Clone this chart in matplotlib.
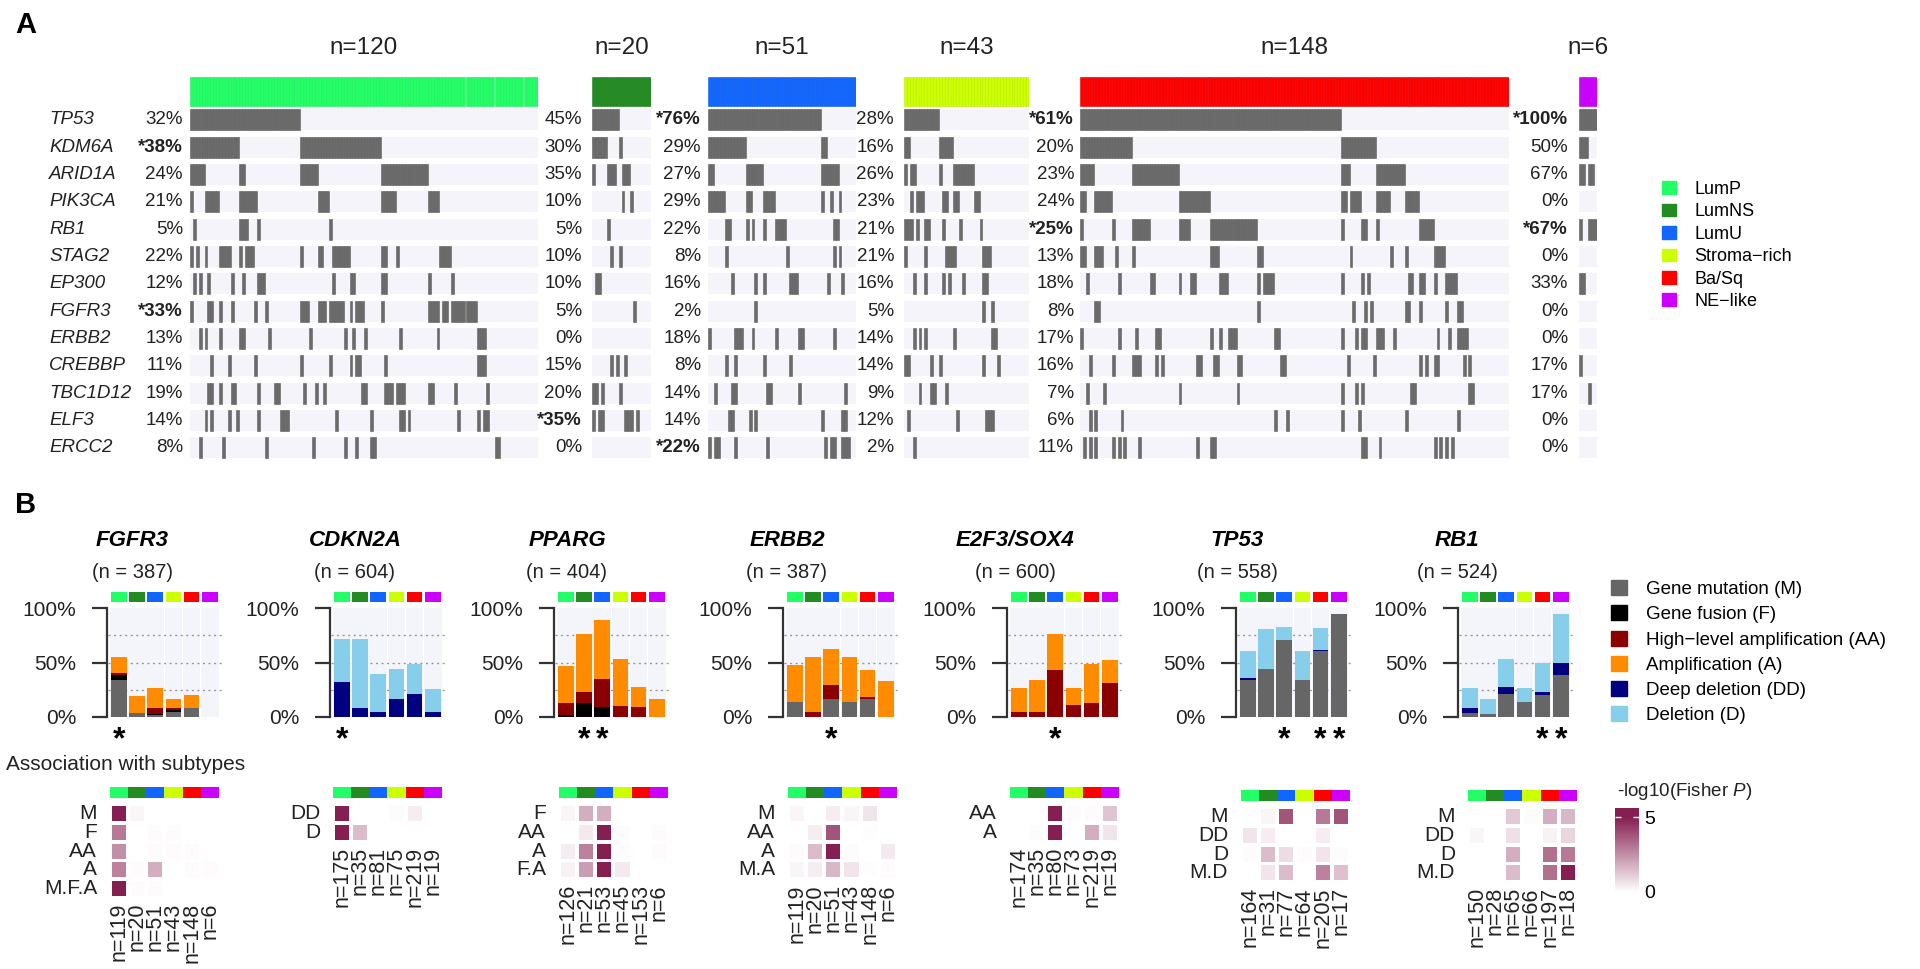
import numpy as np
import matplotlib.pyplot as plt
from matplotlib.colors import LinearSegmentedColormap, Normalize, to_rgb
from matplotlib.patches import Patch

plt.rcParams['font.family'] = ['Liberation Sans', 'DejaVu Sans']
plt.rcParams['mathtext.fontset'] = 'custom'
plt.rcParams['mathtext.rm'] = 'Liberation Sans'
plt.rcParams['mathtext.it'] = 'Liberation Sans:italic'

# ---------------- data ----------------
SUBTYPES = ['LumP', 'LumNS', 'LumU', 'Stroma\u2212rich', 'Ba/Sq', 'NE\u2212like']
SUBTYPE_COLORS = ['#22ff66', '#228b22', '#1166ff', '#ccff00', '#ff0000', '#cc00ff']
GROUP_N = [120, 20, 51, 43, 148, 6]

GENES_A = ['TP53', 'KDM6A', 'ARID1A', 'PIK3CA', 'RB1', 'STAG2', 'EP300', 'FGFR3',
           'ERBB2', 'CREBBP', 'TBC1D12', 'ELF3', 'ERCC2']

PCT_LUMP = ['32%', '*38%', '24%', '21%', '5%', '22%', '12%', '*33%', '13%', '11%', '19%', '14%', '8%']
PCT_LUMNS = ['45%', '30%', '35%', '10%', '5%', '10%', '10%', '5%', '0%', '15%', '20%', '*35%', '0%']
PCT_LUMU = ['*76%', '29%', '27%', '29%', '22%', '8%', '16%', '2%', '18%', '8%', '14%', '14%', '*22%']
PCT_STROMA = ['28%', '16%', '26%', '23%', '21%', '21%', '16%', '5%', '14%', '14%', '9%', '12%', '2%']
PCT_BASQ = ['*61%', '20%', '23%', '24%', '*25%', '13%', '18%', '8%', '17%', '16%', '7%', '6%', '11%']
PCT_NE = ['*100%', '50%', '67%', '0%', '*67%', '0%', '33%', '0%', '0%', '17%', '17%', '0%', '0%']

# mutated sample ranges (start, end) per gene, in sample order of each subtype
MUT_LUMP = [
    [(0, 38)],
    [(0, 17), (38, 66)],
    [(0, 5), (17, 19), (38, 44), (66, 82)],
    [(0, 1), (5, 10), (17, 23), (44, 48), (66, 71), (82, 86)],
    [(1, 2), (17, 20), (23, 24), (48, 49)],
    [(0, 1), (2, 3), (5, 6), (10, 14), (17, 18), (19, 22), (38, 39), (44, 46), (49, 55), (66, 68), (71, 72), (86, 90)],
    [(1, 2), (3, 4), (6, 7), (14, 15), (18, 19), (23, 26), (49, 50), (55, 57), (66, 68), (82, 83), (90, 91)],
    [(0, 1), (6, 8), (10, 11), (14, 15), (22, 23), (26, 27), (38, 41), (44, 47), (48, 53), (55, 56), (57, 60),
     (66, 67), (82, 86), (87, 89), (90, 99)],
    [(3, 4), (5, 6), (10, 11), (17, 19), (27, 28), (41, 42), (53, 54), (56, 57), (60, 61), (72, 73), (85, 86), (99, 102)],
    [(7, 8), (13, 14), (22, 23), (38, 39), (48, 49), (55, 56), (57, 59), (67, 68), (99, 102)],
    [(6, 8), (10, 11), (14, 16), (23, 24), (29, 31), (39, 40), (43, 44), (46, 47), (59, 61), (67, 70), (71, 74),
     (82, 84), (91, 92), (102, 103)],
    [(5, 6), (7, 8), (13, 14), (16, 17), (23, 24), (31, 34), (50, 51), (62, 63), (72, 74), (75, 76), (92, 93),
     (99, 100), (101, 103)],
    [(3, 4), (11, 12), (26, 27), (42, 43), (53, 54), (57, 58), (62, 64), (105, 107)],
]
MUT_LUMNS = [
    [(0, 9)], [(0, 5), (9, 10)], [(0, 1), (5, 8), (10, 13)], [(10, 11), (13, 14)], [(5, 6)],
    [(6, 7), (9, 10)], [(1, 3)], [(14, 15)], [], [(6, 7), (8, 9), (11, 12)],
    [(0, 2), (3, 4), (9, 10)], [(0, 1), (2, 4), (11, 14), (15, 16)], [],
]
MUT_LUMU = [
    [(0, 39)],
    [(0, 13), (39, 41)],
    [(0, 2), (13, 19), (39, 45)],
    [(0, 1), (1, 6), (13, 15), (19, 23), (39, 40), (42, 43), (45, 46)],
    [(6, 8), (13, 14), (15, 16), (19, 20), (23, 27), (43, 45)],
    [(6, 7), (27, 28), (43, 44), (45, 46)],
    [(8, 9), (16, 17), (19, 20), (28, 31), (41, 42), (46, 47)],
    [(16, 17)],
    [(0, 1), (9, 12), (15, 16), (23, 24), (31, 33), (43, 44)],
    [(6, 7), (9, 10), (19, 20), (28, 29)],
    [(2, 3), (8, 10), (20, 22), (31, 32), (47, 48)],
    [(7, 9), (14, 15), (16, 17), (39, 40), (46, 48)],
    [(0, 1), (2, 4), (9, 10), (20, 21), (40, 41), (42, 44), (46, 49)],
]
MUT_STROMA = [
    [(0, 12)],
    [(0, 2), (12, 17)],
    [(0, 1), (2, 4), (12, 13), (17, 24)],
    [(2, 3), (4, 7), (13, 15), (17, 19), (24, 26)],
    [(0, 3), (4, 5), (7, 9), (13, 14), (19, 20), (26, 27)],
    [(0, 1), (7, 8), (14, 18), (27, 30)],
    [(3, 4), (7, 8), (13, 14), (15, 16), (20, 21), (27, 29)],
    [(27, 28), (30, 31)],
    [(3, 4), (5, 6), (7, 8), (17, 18), (30, 32)],
    [(0, 2), (9, 10), (12, 13), (27, 28), (32, 33)],
    [(5, 6), (9, 11), (14, 15)],
    [(1, 2), (18, 19), (28, 31)],
    [(3, 4)],
]
MUT_BASQ = [
    [(0, 90)],
    [(0, 18), (90, 102)],
    [(0, 5), (18, 34), (90, 93), (102, 112)],
    [(0, 2), (5, 11), (34, 45), (90, 92), (93, 97), (102, 107), (112, 117)],
    [(0, 1), (11, 12), (18, 24), (34, 38), (45, 61), (90, 91), (97, 99), (102, 103), (117, 122)],
    [(0, 2), (5, 8), (12, 13), (18, 19), (45, 48), (61, 63), (93, 94), (107, 108), (112, 113), (122, 126)],
    [(2, 3), (13, 14), (24, 26), (34, 35), (38, 40), (48, 51), (61, 62), (63, 67), (90, 91), (97, 98), (99, 100),
     (113, 115), (117, 119), (122, 123), (126, 130)],
    [(5, 7), (61, 62), (94, 95), (98, 99), (100, 101), (112, 114), (117, 118), (126, 127), (130, 132)],
    [(0, 1), (13, 14), (19, 20), (26, 28), (45, 46), (48, 49), (51, 54), (67, 69), (90, 91), (95, 96), (97, 98),
     (98, 99), (102, 105), (108, 109), (123, 124), (127, 128), (130, 134)],
    [(3, 4), (11, 12), (18, 21), (26, 27), (28, 29), (40, 42), (46, 48), (54, 56), (69, 71), (92, 93), (101, 102),
     (117, 118), (119, 120), (122, 124), (132, 133), (134, 135)],
    [(2, 3), (8, 9), (34, 35), (54, 55), (90, 91), (95, 96), (97, 98), (114, 116), (134, 136)],
    [(3, 4), (5, 6), (14, 15), (67, 68), (71, 72), (90, 91), (96, 97), (112, 113), (130, 131)],
    [(1, 2), (3, 4), (5, 6), (11, 12), (13, 14), (15, 16), (20, 21), (40, 41), (45, 47), (97, 99), (103, 104),
     (122, 123), (124, 125), (126, 127), (128, 129)],
]
MUT_NE = [
    [(0, 6)], [(0, 3)], [(0, 2), (3, 5)], [], [(0, 1), (3, 6)], [], [(0, 2)], [], [], [(0, 1)], [(3, 4)], [], [],
]

# panel B: stacked alteration frequencies (%) per subtype
ALT_LABELS = ['Gene mutation (M)', 'Gene fusion (F)', 'High\u2212level amplification (AA)',
              'Amplification (A)', 'Deep deletion (DD)', 'Deletion (D)']
ALT_COLORS = ['#666666', '#000000', '#8b0000', '#ff8c00', '#000080', '#87ceeb']

GENES_B = ['FGFR3', 'CDKN2A', 'PPARG', 'ERBB2', 'E2F3/SOX4', 'TP53', 'RB1']
GENE_N = [387, 604, 404, 387, 600, 558, 524]
Z = [0, 0, 0, 0, 0, 0]
# order: M, F, AA, A, DD, D
BARS_FGFR3 = [[34, 4, 2, 4.5, 8, 0], [5, 0, 1, 1.5, 0, 0], [1.5, 0, 5, 2.5, 0, 0], [14.5, 15.5, 19, 8, 12, 0], Z, Z]
BARS_CDKN2A = [Z, Z, Z, Z, [32.5, 8.5, 4.5, 17, 21, 5], [39, 63, 35.5, 27, 28, 21]]
BARS_PPARG = [Z, [2, 13, 9, 0, 0, 0], [11, 10, 26, 10.5, 9, 0], [34, 53, 54, 42.5, 19, 16.5], Z, Z]
BARS_ERBB2 = [[13.5, 0, 17, 13.5, 17, 0], Z, [0.5, 4.5, 12, 0, 1, 0], [33.5, 50.5, 34, 42, 25.5, 33], Z, Z]
BARS_E2F3 = [Z, Z, [4.5, 5, 43.5, 11, 13, 31], [22, 29, 32.5, 15.5, 36, 21.5], Z, Z]
BARS_TP53 = [[34, 44.5, 71, 34, 60.5, 94.5], Z, Z, Z, [1.5, 0, 0, 0, 1.2, 0], [25.5, 36.5, 12, 27, 19.8, 0]]
BARS_RB1 = [[3.5, 2.5, 21, 14, 20, 38.5], Z, Z, Z, [5, 0, 6.5, 0, 3, 11.5], [18.5, 14.5, 26, 13, 27, 44.5]]
STARS = [[0], [0], [1, 2], [2], [2], [2, 4, 5], [4, 5]]

# association heatmaps: -log10(Fisher P)
HEAT_ROWS = [['M', 'F', 'AA', 'A', 'M.F.A'], ['DD', 'D'], ['F', 'AA', 'A', 'F.A'], ['M', 'AA', 'A', 'M.A'],
             ['AA', 'A'], ['M', 'DD', 'D', 'M.D'], ['M', 'DD', 'D', 'M.D']]
HEAT_FGFR3 = [[5, 0.2, 0, 0, 0, 0], [3, 0, 0.1, 0.1, 0, 0], [2.5, 0, 0.1, 0.1, 0.1, 0],
              [2.8, 0.1, 1.8, 0, 0.1, 0.1], [5, 0.1, 0.1, 0, 0, 0]]
HEAT_CDKN2A = [[5, 0, 0, 0.1, 0.4, 0], [5, 1.5, 0, 0, 0, 0]]
HEAT_PPARG = [[0.2, 1.8, 1.8, 0, 0, 0], [0, 0.5, 5, 0.1, 0, 0.1], [0.4, 2.8, 5, 0.1, 0, 0.1],
              [0.3, 2.2, 5, 0.5, 0, 0]]
HEAT_ERBB2 = [[0.2, 0, 0.4, 0.2, 0.6, 0], [0, 0.4, 3.8, 0, 0.05, 0], [0.1, 1.5, 5, 0.1, 0, 0.5],
              [0.2, 0.4, 1.6, 0.6, 0.05, 0.1]]
HEAT_E2F3 = [[0, 0, 5, 0.1, 0.1, 1.3], [0, 0.1, 5, 0, 1.8, 0.6]]
HEAT_TP53 = [[0, 0.2, 3.8, 0, 3, 3.8], [0.6, 0.4, 0, 0, 0.4, 0], [0.1, 1.5, 0.8, 0.1, 0.6, 0.1],
             [0, 0.6, 1.5, 0, 2.8, 1.4]]
HEAT_RB1 = [[0, 0, 1.2, 0.1, 1.8, 1.6], [0.2, 0, 0.7, 0, 0.3, 0.9], [0, 0, 1.8, 0, 3.2, 3],
            [0, 0, 1.5, 0, 3.2, 5]]
HEAT_N = [[119, 20, 51, 43, 148, 6], [175, 35, 81, 75, 219, 19], [126, 21, 53, 45, 153, 6],
          [119, 20, 51, 43, 148, 6], [174, 35, 80, 73, 219, 19], [164, 31, 77, 64, 205, 17],
          [150, 28, 65, 66, 197, 18]]

# ---------------- figure ----------------
W, H = 1920, 969
fig = plt.figure(figsize=(W / 100, H / 100), dpi=100)


def add_ax(x0, y0, x1, y1, off=True):
    ax = fig.add_axes([x0 / W, 1 - y1 / H, (x1 - x0) / W, (y1 - y0) / H])
    if off:
        ax.set_axis_off()
    return ax


def darker(c, f=0.85):
    r, g, b = to_rgb(c)
    return (r * f, g * f, b * f)


# ---- panel A: oncoprint ----
fig.text(15 / W, 1 - 25 / H, 'A', fontsize=21, fontweight='bold', va='center')
group_px = [(190, 538), (592, 651), (708, 856), (904, 1029), (1080, 1509), (1579, 1597)]
pct_gap = [7, 10, 7, 10, 6, 11]
all_muts = [MUT_LUMP, MUT_LUMNS, MUT_LUMU, MUT_STROMA, MUT_BASQ, MUT_NE]
all_pcts = [PCT_LUMP, PCT_LUMNS, PCT_LUMU, PCT_STROMA, PCT_BASQ, PCT_NE]
ROW0, PITCH = 120, 27.3
row_h = 21 / PITCH
y_lo, y_hi = (77 - ROW0) / PITCH, (462 - ROW0) / PITCH
for g in range(6):
    n = GROUP_N[g]
    x0, x1 = group_px[g]
    ax = add_ax(x0, 77, x1, 462)
    ax.set_xlim(0, n)
    ax.set_ylim(y_hi, y_lo)
    col = SUBTYPE_COLORS[g]
    ax.bar(np.arange(n), 29 / PITCH, bottom=y_lo, width=1, align='edge', color=col,
           edgecolor=darker(col, 0.92), linewidth=0.4)
    ax.barh(np.arange(len(GENES_A)), n, height=row_h, left=0, color='#f4f4fa')
    for i, segs in enumerate(all_muts[g]):
        for s, e in segs:
            ax.bar(np.arange(s, e), row_h, bottom=i - row_h / 2, width=1, align='edge',
                   color='#6b6b6b', edgecolor='#5f5f5f', linewidth=0.4)
    for i, p in enumerate(all_pcts[g]):
        ax.annotate(p, xy=(0, i), xycoords=('axes fraction', 'data'), xytext=(-pct_gap[g], 0),
                    textcoords='offset pixels', ha='right', va='center', fontsize=13.5,
                    fontweight='bold' if p.startswith('*') else 'normal', color='#222222')
    ax.annotate(f'n={n}', xy=(0.5, 1), xycoords='axes fraction', xytext=(0, 29),
                textcoords='offset pixels', ha='center', va='center', fontsize=17.5, color='#222222')
    if g == 0:
        for i, gene in enumerate(GENES_A):
            ax.annotate(gene, xy=(0, i), xycoords=('axes fraction', 'data'), xytext=(49 - x0, 0),
                        textcoords='offset pixels', ha='left', va='center', fontsize=13.5,
                        fontstyle='italic', color='#222222')

fig.legend(handles=[Patch(color=c) for c in SUBTYPE_COLORS], labels=SUBTYPES, loc='upper left',
           bbox_to_anchor=(1662 / W, 1 - 181 / H), frameon=False, fontsize=13, handlelength=0.8,
           handleheight=0.7, handletextpad=1.0, labelspacing=0.3, borderpad=0, borderaxespad=0)

# ---- panel B: bars ----
fig.text(15 / W, 1 - 505 / H, 'B', fontsize=21, fontweight='bold', va='center')
fig.text(6 / W, 1 - 765 / H, 'Association with subtypes', fontsize=15, va='center', color='#222222')

all_bars = [BARS_FGFR3, BARS_CDKN2A, BARS_PPARG, BARS_ERBB2, BARS_E2F3, BARS_TP53, BARS_RB1]
all_heat = [HEAT_FGFR3, HEAT_CDKN2A, HEAT_PPARG, HEAT_ERBB2, HEAT_E2F3, HEAT_TP53, HEAT_RB1]
bar_left = [107, 330, 554, 783, 1007, 1236, 1458]
heat_left = [107, 330, 556, 785, 1007, 1238, 1465]
heat_top = [787, 787, 787, 787, 787, 790, 790]
title_x = [132, 355, 567, 787, 1015, 1237, 1457]
cmap = LinearSegmentedColormap.from_list('fisher', ['#ffffff', '#851f51'])
norm = Normalize(0, 5)
xs = np.arange(6)

for k in range(7):
    x0 = bar_left[k]
    ax = add_ax(x0, 592, x0 + 115, 717, off=False)
    ax.set_xlim(-0.65, 5.67)
    ax.set_ylim(0, 115)
    ax.bar(xs, 100, width=0.97, color='#f4f4fb', zorder=0)
    ax.hlines([25, 50, 75], -0.6, 5.67, colors='#999999', linestyles=(0, (1.5, 2.5)), lw=1, zorder=1)
    bottom = np.zeros(6)
    for vals, c in zip(all_bars[k], ALT_COLORS):
        vals = np.array(vals, dtype=float)
        ax.bar(xs, vals, bottom=bottom, width=0.86, color=c, zorder=2)
        bottom += vals
    ax.bar(xs, 9.3, bottom=105.6, width=0.86, color=SUBTYPE_COLORS, zorder=2)
    for s in ['top', 'right', 'bottom']:
        ax.spines[s].set_visible(False)
    ax.spines['left'].set_bounds(0, 100)
    ax.spines['left'].set_color('#333333')
    ax.spines['left'].set_linewidth(1.6)
    ax.set_xticks([])
    ax.set_yticks([0, 50, 100])
    ax.set_yticklabels(['0%', '50%', '100%'])
    ax.tick_params(axis='y', length=11, width=1.6, color='#333333', labelsize=15, pad=11,
                   labelcolor='#222222')
    ax.patch.set_alpha(0)
    for j in STARS[k]:
        ax.text(j, -21, '*', ha='center', va='center', fontsize=23, fontweight='bold', clip_on=False)

    fig.text(title_x[k] / W, 1 - 541 / H, GENES_B[k], fontsize=16, fontweight='bold', fontstyle='italic',
             ha='center', va='center')
    fig.text(title_x[k] / W, 1 - 572 / H, f'(n = {GENE_N[k]})', fontsize=14.5, ha='center', va='center',
             color='#222222')

    # heatmap
    rows = HEAT_ROWS[k]
    nr = len(rows)
    pitch = 18.7
    top = heat_top[k]
    y_top = -26.7 / pitch
    hx0 = heat_left[k]
    hax = add_ax(hx0, top, hx0 + 115, top + (nr - 0.5 - y_top) * pitch)
    hax.set_xlim(-0.65, 5.67)
    hax.set_ylim(nr - 0.5, y_top)
    hax.bar(xs, 0.59, bottom=y_top, width=1.0, color=SUBTYPE_COLORS)
    for i, rv in enumerate(all_heat[k]):
        hax.bar(xs, 0.8, bottom=i - 0.4, width=0.78, color=cmap(norm(np.array(rv))))
        hax.annotate(rows[i], xy=(0, i), xycoords=('axes fraction', 'data'), xytext=(-10, 0),
                     textcoords='offset pixels', ha='right', va='center', fontsize=15, color='#222222')
    for j, nn in enumerate(HEAT_N[k]):
        hax.annotate(f'n={nn}', xy=(j, nr - 0.5), xytext=(0, -5), textcoords='offset pixels',
                     rotation=90, ha='center', va='top', fontsize=15.5, color='#222222')

# alteration legend
fig.legend(handles=[Patch(color=c) for c in ALT_COLORS], labels=ALT_LABELS, loc='upper left',
           bbox_to_anchor=(1611 / W, 1 - 580 / H), frameon=False, fontsize=13.5, handlelength=0.85,
           handleheight=0.85, handletextpad=1.0, labelspacing=0.39, borderpad=0, borderaxespad=0)

# colour key
fig.text(1617 / W, 1 - 792 / H, r'-log10(Fisher $P$)', fontsize=13.5, va='center', color='#222222')
cax = add_ax(1615, 808, 1639, 895, off=False)
cax.imshow(np.linspace(5.6, -0.2, 200)[:, None], aspect='auto', cmap=cmap, norm=norm,
           extent=(0, 1, -0.2, 5.6))
cax.set_xticks([])
cax.set_yticks([0, 5])
cax.tick_params(axis='y', left=True, right=True, labelleft=False, labelright=True, direction='in',
                length=4, width=1, color='white', labelsize=14, pad=4)
for s in cax.spines.values():
    s.set_visible(False)

fig.savefig('out.png', dpi=100)
